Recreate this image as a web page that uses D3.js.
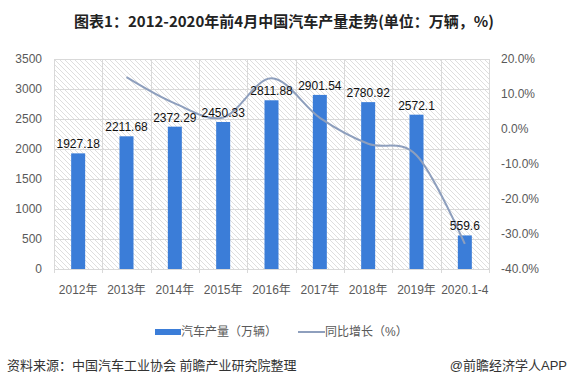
<!DOCTYPE html>
<html>
<head>
<meta charset="utf-8">
<script src="https://cdn.jsdelivr.net/npm/d3@7"></script>
<style>
  body { margin: 0; background: #fff; }
  svg { font-family: "Liberation Sans", "Noto Sans CJK SC", sans-serif; }
</style>
</head>
<body>
<svg id="chart" width="570" height="387"></svg>
<script>
// ── Data ─────────────────────────────────────────────────────────────
const categories = ['2012年', '2013年', '2014年', '2015年', '2016年', '2017年', '2018年', '2019年', '2020.1-4'];
const output = [1927.18, 2211.68, 2372.29, 2450.33, 2811.88, 2901.54, 2780.92, 2572.1, 559.6];
const outputLabels = ['1927.18', '2211.68', '2372.29', '2450.33', '2811.88', '2901.54', '2780.92', '2572.1', '559.6'];
// growth starts from 2013
const growth = [null, 14.8, 7.3, 3.3, 14.5, 3.2, -4.2, -7.5, -32.8];
const leftTicks = [0, 500, 1000, 1500, 2000, 2500, 3000, 3500];
const rightTicks = [-40, -30, -20, -10, 0, 10, 20];

// ── Layout ───────────────────────────────────────────────────────────
const svg = d3.select('#chart');
const plot = { left: 54, right: 489, top: 59, bottom: 269 };

const x = d3.scaleBand().domain(categories).range([plot.left, plot.right]);
const yL = d3.scaleLinear().domain([0, 3500]).range([plot.bottom, plot.top]);
const yR = d3.scaleLinear().domain([-40, 20]).range([plot.bottom, plot.top]);

// hatch pattern
const defs = svg.append('defs');
const pat = defs.append('pattern')
  .attr('id', 'hatch').attr('patternUnits', 'userSpaceOnUse')
  .attr('width', 5).attr('height', 5);
pat.append('path').attr('d', 'M-1,-1 L6,6 M-1,4 L1,6 M4,-1 L6,1')
  .attr('stroke', '#d6d6d6').attr('stroke-width', 0.8);

svg.append('rect')
  .attr('x', plot.left).attr('y', plot.top)
  .attr('width', plot.right - plot.left).attr('height', plot.bottom - plot.top)
  .attr('fill', 'url(#hatch)');

// Title
svg.append('text')
  .attr('x', 284).attr('y', 27)
  .attr('text-anchor', 'middle')
  .attr('font-family', '"Noto Sans CJK SC", sans-serif')
  .attr('font-size', 15).attr('font-weight', 'bold').attr('fill', '#222')
  .text('图表1：2012-2020年前4月中国汽车产量走势(单位：万辆，%)');

// Grid: horizontal
svg.append('g').selectAll('line')
  .data(leftTicks)
  .join('line')
  .attr('x1', plot.left).attr('x2', plot.right)
  .attr('y1', d => Math.round(yL(d)) + 0.5).attr('y2', d => Math.round(yL(d)) + 0.5)
  .attr('stroke', '#d9d9d9').attr('stroke-width', 1);

// Grid: vertical at category boundaries (extend below as ticks)
const bounds = categories.map(c => x(c)).concat([plot.right]);
svg.append('g').selectAll('line')
  .data(bounds)
  .join('line')
  .attr('x1', d => Math.round(d) + 0.5).attr('x2', d => Math.round(d) + 0.5)
  .attr('y1', plot.top).attr('y2', plot.bottom + 4)
  .attr('stroke', '#d9d9d9').attr('stroke-width', 1);

// Left axis labels
svg.append('g').selectAll('text')
  .data(leftTicks)
  .join('text')
  .attr('x', 42).attr('y', d => yL(d) + 4)
  .attr('text-anchor', 'end')
  .attr('font-size', 12).attr('fill', '#595959')
  .text(d => d);

// Right axis labels
svg.append('g').selectAll('text')
  .data(rightTicks)
  .join('text')
  .attr('x', 501).attr('y', d => yR(d) + 4)
  .attr('font-size', 12).attr('fill', '#595959')
  .text(d => d.toFixed(1) + '%');

// X labels
svg.append('g').selectAll('text')
  .data(categories)
  .join('text')
  .attr('x', d => x(d) + x.bandwidth() / 2).attr('y', 294)
  .attr('text-anchor', 'middle')
  .attr('font-size', 12).attr('fill', '#595959')
  .text(d => d);

// Bars
const barW = 14;
svg.append('g').selectAll('rect')
  .data(output)
  .join('rect')
  .attr('x', (d, i) => x(categories[i]) + x.bandwidth() / 2 - barW / 2)
  .attr('y', d => yL(d))
  .attr('width', barW)
  .attr('height', d => yL(0) - yL(d))
  .attr('fill', '#3b7dd8');

// Growth line (smoothed)
const pts = growth.map((g, i) => ({ x: x(categories[i]) + x.bandwidth() / 2, g }))
  .filter(d => d.g !== null);
const line = d3.line()
  .x(d => d.x).y(d => yR(d.g))
  .curve(d3.curveCardinal.tension(0));
svg.append('path')
  .datum(pts)
  .attr('d', line)
  .attr('fill', 'none')
  .attr('stroke', '#8e9fbd')
  .attr('stroke-width', 2);

// Bar labels
svg.append('g').selectAll('text')
  .data(output)
  .join('text')
  .attr('x', (d, i) => x(categories[i]) + x.bandwidth() / 2)
  .attr('y', d => yL(d) - 5)
  .attr('text-anchor', 'middle')
  .attr('font-size', 12).attr('fill', '#111')
  .text((d, i) => outputLabels[i]);

// Legend
const lg = svg.append('g');
lg.append('rect').attr('x', 155).attr('y', 329).attr('width', 26).attr('height', 6).attr('fill', '#3b7dd8');
lg.append('text').attr('x', 181).attr('y', 336).attr('font-size', 12).attr('fill', '#595959').text('汽车产量（万辆）');
lg.append('line').attr('x1', 298).attr('x2', 325).attr('y1', 332).attr('y2', 332)
  .attr('stroke', '#8e9fbd').attr('stroke-width', 2);
lg.append('text').attr('x', 325).attr('y', 336).attr('font-size', 12).attr('fill', '#595959').text('同比增长（%）');

// Footer
svg.append('text').attr('x', 7).attr('y', 370).attr('font-size', 13).attr('fill', '#333')
  .text('资料来源：中国汽车工业协会 前瞻产业研究院整理');
svg.append('text').attr('x', 567).attr('y', 370).attr('text-anchor', 'end').attr('font-size', 13).attr('fill', '#333')
  .text('@前瞻经济学人APP');
</script>
</body>
</html>
